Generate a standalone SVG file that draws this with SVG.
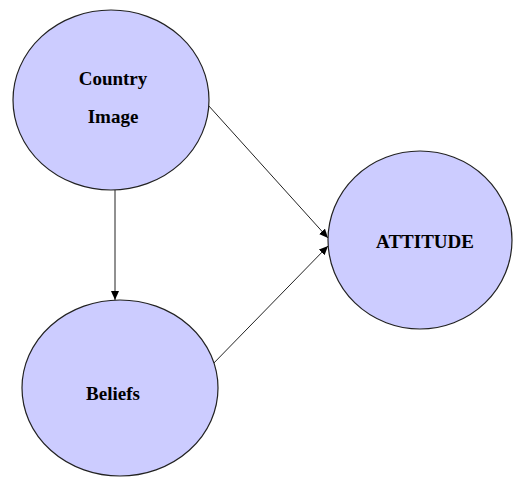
<svg xmlns="http://www.w3.org/2000/svg" width="513" height="477" viewBox="0 0 513 477">
  <style>
    .node { fill: #ccccff; stroke: #222222; stroke-width: 1.2; }
    .label { font-family: "Liberation Serif", "Times New Roman", serif; font-weight: bold; font-size: 19px; fill: #000000; text-anchor: middle; }
    .edge { stroke: #222222; stroke-width: 1; fill: none; marker-end: url(#arrow); }
  </style>
  <defs>
    <marker id="arrow" markerWidth="9" markerHeight="8" refX="9" refY="4" orient="auto" markerUnits="userSpaceOnUse">
      <path d="M0,0 L9,4 L0,8 Z" fill="#000000"/>
    </marker>
  </defs>
  <rect width="513" height="477" fill="#ffffff"/>

  <g id="connectors">
    <line class="edge" x1="115" y1="190" x2="115" y2="300"/>
    <line class="edge" x1="208" y1="105" x2="328" y2="238"/>
    <line class="edge" x1="209" y1="368" x2="328" y2="246"/>
  </g>

  <g id="country-image">
    <ellipse class="node" cx="111" cy="100" rx="98" ry="90"/>
    <text class="label" x="113" y="85">Country</text>
    <text class="label" x="113" y="123">Image</text>
  </g>

  <g id="beliefs">
    <ellipse class="node" cx="120" cy="388" rx="98" ry="88"/>
    <text class="label" x="113" y="400">Beliefs</text>
  </g>

  <g id="attitude">
    <ellipse class="node" cx="420" cy="240" rx="92" ry="89"/>
    <text class="label" x="425" y="248">ATTITUDE</text>
  </g>
</svg>
